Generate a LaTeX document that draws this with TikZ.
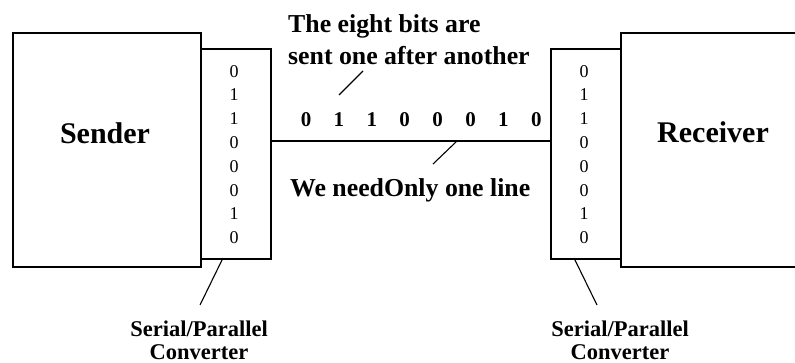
\documentclass[tikz,border=0pt]{standalone}
\usepackage{fontspec}
\setmainfont{Liberation Serif}
\begin{document}
\begin{tikzpicture}[x=1pt,y=-1pt,
  box/.style={draw, line width=1.6pt, inner sep=0pt, anchor=north west},
  conv/.style={box, minimum width=70pt, minimum height=210pt},
  big/.style={font=\fontsize{30}{36}\selectfont\bfseries, inner sep=0pt, anchor=base},
  ann/.style={font=\fontsize{25.8}{31}\selectfont\bfseries, inner sep=0pt, anchor=base west},
  convlabel/.style={font=\fontsize{22.5}{24}\selectfont\bfseries, inner sep=0pt, anchor=base},
  digits/.style={font=\fontsize{18}{23.8}\selectfont, align=center, inner sep=0pt},
  bit/.style={font=\fontsize{21}{24}\selectfont\bfseries, inner sep=0pt, anchor=base},
  wire/.style={line width=1.3pt},
  ptr/.style={line width=1.1pt}]
\useasboundingbox (0,0) rectangle (795,363);
\clip (0,0) rectangle (795,363);
% boxes
\node[box, minimum width=188pt, minimum height=234pt] (sender) at (12,32.5) {};
\node[conv] (lconv) at (200,48) {};
\node[box, minimum width=200pt, minimum height=234pt] (receiver) at (620,32.5) {};
\node[conv] (rconv) at (550,48) {};
% box texts
\node[big] (sendertxt) at (105,144) {Sender};
\node[big] (receivertxt) at (713,143) {Receiver};
\node[digits] (ldig) at (234,154.5) {0\\1\\1\\0\\0\\0\\1\\0};
\node[digits] (rdig) at (584,154.5) {0\\1\\1\\0\\0\\0\\1\\0};
% the single line
\coordinate (lineY) at (400,141);
\draw[wire] (lconv.east |- lineY) -- (rconv.west |- lineY);
% bits on the line
\foreach \b [count=\i] in {0,1,1,0,0,0,1,0}
  \node[bit] (b\i) at ({306+32.9*(\i-1)},127) {\b};
% annotations
\node[ann] (t1) at (288,33) {The eight bits are};
\node[ann] (t2) at (288,65) {sent one after another};
\node[ann] (t3) at (290,197) {We needOnly one line};
\node[convlabel] (lc1) at (199,336) {Serial/Parallel};
\node[convlabel] (lc2) at (199,359.5) {Converter};
\node[convlabel] (rc1) at (620,336) {Serial/Parallel};
\node[convlabel] (rc2) at (620,359.5) {Converter};
% pointers
\coordinate (p1a) at (363,71);  \coordinate (p1b) at (339,95);
\coordinate (p2a) at (457,141); \coordinate (p2b) at (433,164);
\coordinate (p3a) at (223,258); \coordinate (p3b) at (200,305);
\coordinate (p4a) at (574,258); \coordinate (p4b) at (597,305);
\draw[ptr] (p1a) -- (p1b);
\draw[ptr] (p2a) -- (p2b);
\draw[ptr] (p3a) -- (p3b);
\draw[ptr] (p4a) -- (p4b);
\end{tikzpicture}
\end{document}
